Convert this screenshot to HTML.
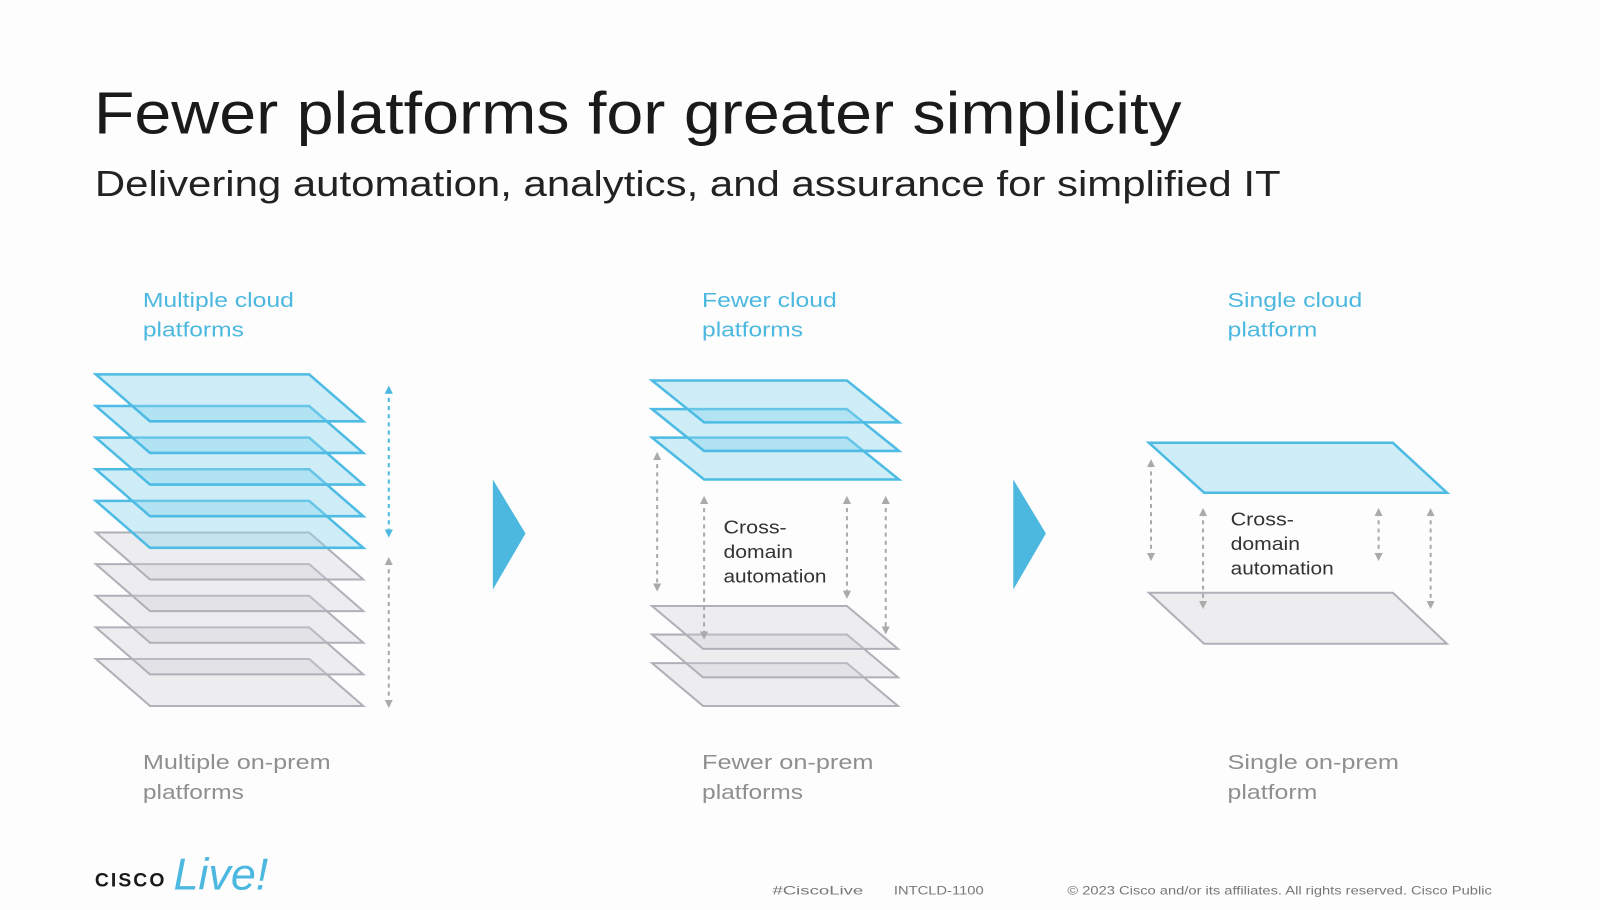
<!DOCTYPE html>
<html><head><meta charset="utf-8"><style>
html,body{margin:0;padding:0;background:#fff;}
svg{display:block}
text{font-family:"Liberation Sans","DejaVu Sans",sans-serif}
</style></head><body>
<svg width="1600" height="910" viewBox="0 0 1568 892" preserveAspectRatio="none" xmlns="http://www.w3.org/2000/svg">
<defs>
<marker id="bu" viewBox="0 0 10 10" refX="5" refY="5" markerWidth="4" markerHeight="4" orient="auto-start-reverse"><path d="M0,0L10,5L0,10z" fill="#4cb8e0"/></marker>
<marker id="gu" viewBox="0 0 10 10" refX="5" refY="5" markerWidth="4" markerHeight="4" orient="auto-start-reverse"><path d="M0,0L10,5L0,10z" fill="#aaa"/></marker>
<g id="bl"><path d="M0,0L209,0L262,46L53,46Z" fill="rgba(140,215,238,0.42)" stroke="#4dbbe3" stroke-width="2.5"/></g>
<g id="gl"><path d="M0,0L209,0L262,46L53,46Z" fill="rgba(205,205,215,0.35)" stroke="#b0b0b8" stroke-width="2"/></g>
<g id="bl2"><path d="M0,0L191,0L242,41L51,41Z" fill="rgba(140,215,238,0.42)" stroke="#4dbbe3" stroke-width="2.5"/></g>
<g id="gl2"><path d="M0,0L191,0L241,42L50,42Z" fill="rgba(205,205,215,0.35)" stroke="#b0b0b8" stroke-width="2"/></g>
</defs>
<rect width="1568" height="892" fill="#fdfdfd"/>
<text x="92" y="131" font-size="58" fill="#1a1a1a" textLength="1066" lengthAdjust="spacingAndGlyphs">Fewer platforms for greater simplicity</text>
<text x="93" y="192" font-size="35" fill="#222" textLength="1162" lengthAdjust="spacingAndGlyphs">Delivering automation, analytics, and assurance for simplified IT</text>

<g font-size="20" fill="#4cb8e0">
<text x="140" y="301" textLength="148" lengthAdjust="spacingAndGlyphs">Multiple cloud</text><text x="140" y="330" textLength="99" lengthAdjust="spacingAndGlyphs">platforms</text>
<text x="688" y="301" textLength="132" lengthAdjust="spacingAndGlyphs">Fewer cloud</text><text x="688" y="330" textLength="99" lengthAdjust="spacingAndGlyphs">platforms</text>
<text x="1203" y="301" textLength="132" lengthAdjust="spacingAndGlyphs">Single cloud</text><text x="1203" y="330" textLength="88" lengthAdjust="spacingAndGlyphs">platform</text>
</g>
<g font-size="20" fill="#8f8f8f">
<text x="140" y="754" textLength="184" lengthAdjust="spacingAndGlyphs">Multiple on-prem</text><text x="140" y="783" textLength="99" lengthAdjust="spacingAndGlyphs">platforms</text>
<text x="688" y="754" textLength="168" lengthAdjust="spacingAndGlyphs">Fewer on-prem</text><text x="688" y="783" textLength="99" lengthAdjust="spacingAndGlyphs">platforms</text>
<text x="1203" y="754" textLength="168" lengthAdjust="spacingAndGlyphs">Single on-prem</text><text x="1203" y="783" textLength="88" lengthAdjust="spacingAndGlyphs">platform</text>
</g>

<!-- stack 1 -->
<use href="#gl" x="94" y="646"/><use href="#gl" x="94" y="615"/><use href="#gl" x="94" y="584"/><use href="#gl" x="94" y="553"/><use href="#gl" x="94" y="522"/>
<use href="#bl" x="94" y="491"/><use href="#bl" x="94" y="460"/><use href="#bl" x="94" y="429"/><use href="#bl" x="94" y="398"/><use href="#bl" x="94" y="367"/>
<line x1="381" y1="382" x2="381" y2="523" stroke="#4cb8e0" stroke-width="2" stroke-dasharray="4,4" marker-start="url(#bu)" marker-end="url(#bu)"/>
<line x1="381" y1="550" x2="381" y2="690" stroke="#aaa" stroke-width="2" stroke-dasharray="4,4" marker-start="url(#gu)" marker-end="url(#gu)"/>
<path d="M483,470L515,523L483,578Z" fill="#4cb8e0"/>

<!-- stack 2 -->
<use href="#gl2" x="639" y="650"/><use href="#gl2" x="639" y="622"/><use href="#gl2" x="639" y="594"/>
<use href="#bl2" x="639" y="429"/><use href="#bl2" x="639" y="401"/><use href="#bl2" x="639" y="373"/>
<g stroke="#aaa" stroke-width="2" stroke-dasharray="4,4" marker-start="url(#gu)" marker-end="url(#gu)">
<line x1="644" y1="447" x2="644" y2="576"/><line x1="690" y1="490" x2="690" y2="623"/>
<line x1="830" y1="490" x2="830" y2="583"/><line x1="868" y1="490" x2="868" y2="618"/>
</g>
<g font-size="18" fill="#333"><text x="709" y="523" textLength="62" lengthAdjust="spacingAndGlyphs">Cross-</text><text x="709" y="547" textLength="68" lengthAdjust="spacingAndGlyphs">domain</text><text x="709" y="571" textLength="101" lengthAdjust="spacingAndGlyphs">automation</text></g>
<path d="M993,470L1025,523L993,578Z" fill="#4cb8e0"/>

<!-- stack 3 -->
<path d="M1126,581L1365,581L1418,631L1180,631Z" fill="rgba(205,205,215,0.35)" stroke="#b0b0b8" stroke-width="2"/>
<path d="M1126,434L1365,434L1418,483L1180,483Z" fill="rgba(140,215,238,0.42)" stroke="#4dbbe3" stroke-width="2.5"/>
<g stroke="#aaa" stroke-width="2" stroke-dasharray="4,4" marker-start="url(#gu)" marker-end="url(#gu)">
<line x1="1128" y1="454" x2="1128" y2="546"/><line x1="1179" y1="502" x2="1179" y2="593"/>
<line x1="1351" y1="502" x2="1351" y2="546"/><line x1="1402" y1="502" x2="1402" y2="593"/>
</g>
<g font-size="18" fill="#333"><text x="1206" y="515" textLength="62" lengthAdjust="spacingAndGlyphs">Cross-</text><text x="1206" y="539" textLength="68" lengthAdjust="spacingAndGlyphs">domain</text><text x="1206" y="563" textLength="101" lengthAdjust="spacingAndGlyphs">automation</text></g>

<!-- footer -->
<text x="93" y="869" font-size="19" font-weight="bold" fill="#1a1a1a" letter-spacing="2">CISCO</text>
<text x="170" y="872" font-size="44" font-style="italic" fill="#4cb8e0" font-family="Liberation Serif,serif">Live!</text>
<g font-size="12" fill="#777">
<text x="757" y="877" textLength="89" lengthAdjust="spacingAndGlyphs">#CiscoLive</text>
<text x="876" y="877" textLength="88" lengthAdjust="spacingAndGlyphs">INTCLD-1100</text>
<text x="1046" y="877" textLength="416" lengthAdjust="spacingAndGlyphs">© 2023  Cisco and/or its affiliates. All rights reserved.   Cisco Public</text>
</g>
</svg>
</body></html>
